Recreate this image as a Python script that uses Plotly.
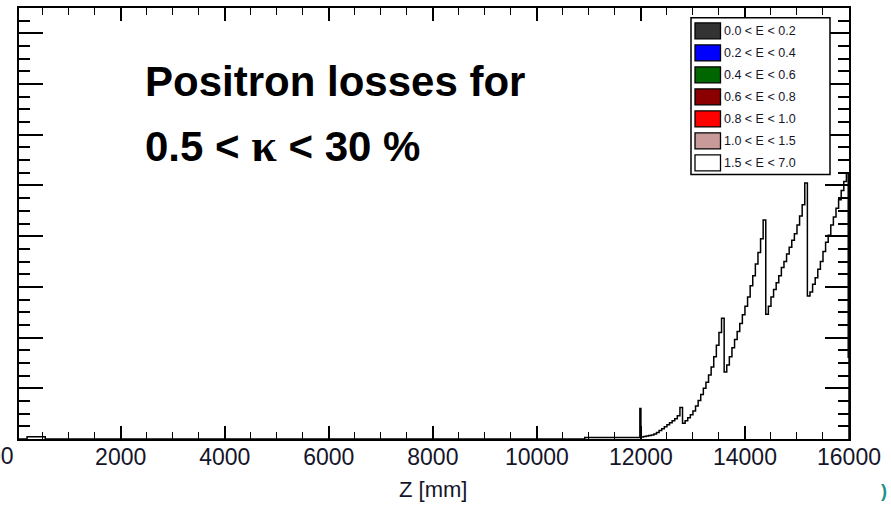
import plotly.graph_objects as go

# ---------------- data ----------------
# left edges of histogram bins (Z in mm) and the bin contents
z_left = [45, 200, 550, 10920, 11980] + list(range(12000, 16000, 50)) + [15985]
z_end = 16000
counts = [0, 0.045, 0, 0.03, 0.60,
          0.04, 0.05, 0.06, 0.07, 0.08, 0.10, 0.13, 0.17, 0.20, 0.24,
          0.28, 0.32, 0.36, 0.40, 0.46, 0.62, 0.31, 0.36, 0.42, 0.48,
          0.55, 0.65, 0.76, 0.88, 1.00, 1.12, 1.26, 1.42, 1.62, 1.85,
          2.10, 2.38, 1.32, 1.46, 1.62, 1.80, 1.96, 2.12, 2.28, 2.45,
          2.62, 2.80, 3.02, 3.22, 3.45, 3.68, 3.95, 4.32, 2.46, 2.62,
          2.80, 2.95, 3.08, 3.22, 3.38, 3.50, 3.65, 3.78, 3.92, 4.05,
          4.22, 4.40, 4.62, 5.05, 2.82, 2.90, 3.05, 3.18, 3.35, 3.50,
          3.70, 3.88, 4.02, 4.22, 4.38, 4.55, 4.72, 4.90, 5.08, 5.25,
          1.61]

legend_labels = ["0.0 < E < 0.2", "0.2 < E < 0.4", "0.4 < E < 0.6", "0.6 < E < 0.8",
                 "0.8 < E < 1.0", "1.0 < E < 1.5", "1.5 < E < 7.0"]
legend_colors = ["#333333", "#0000ff", "#006600", "#8b0000", "#ff0000", "#c99a9a", "#ffffff"]

x_ticks = [2000, 4000, 6000, 8000, 10000, 12000, 14000, 16000]
x_ticktext = ["2000", "4000", "6000", "8000", "10000", "12000", "14000", "16000"]

# ---------------- figure ----------------
W, H = 891, 506
ML, MR, MT, MB = 19, 42, 6, 67
PW, PH = W - ML - MR, H - MT - MB

def px_x(p):
    return (p - ML) / PW

def px_y(p):
    return (H - MB - p) / PH

SANS = "Liberation Sans, Arial, sans-serif"
LABCOL = "#15152a"

fig = go.Figure()
fig.add_trace(go.Scatter(
    x=z_left + [z_end], y=counts + [0],
    mode="lines", line=dict(color="black", width=1.5, shape="hv"),
    name=legend_labels[-1], showlegend=False, hoverinfo="skip"))

shapes = []
annotations = []

# manual ROOT-style legend box
LX0, LX1, LY0, LY1 = 691, 830, 15.7, 173.3
shapes.append(dict(type="rect", xref="paper", yref="paper",
                   x0=px_x(LX0), x1=px_x(LX1), y0=px_y(LY1), y1=px_y(LY0),
                   line=dict(color="black", width=1.5), fillcolor="white", layer="above"))
for i, (lab, col) in enumerate(zip(legend_labels, legend_colors)):
    cy = 29 + i * 22.1
    shapes.append(dict(type="rect", xref="paper", yref="paper",
                       x0=px_x(695), x1=px_x(720.5), y0=px_y(cy + 8), y1=px_y(cy - 8),
                       line=dict(color="black", width=1.3), fillcolor=col, layer="above"))
    annotations.append(dict(xref="paper", yref="paper", x=px_x(722), y=px_y(cy),
                            xanchor="left", yanchor="middle", text=lab, showarrow=False,
                            font=dict(family=SANS, size=12.5, color=LABCOL)))

# slide text
annotations.append(dict(xref="paper", yref="paper", x=px_x(143), y=px_y(80),
                        xanchor="left", yanchor="middle", showarrow=False,
                        text="<b>Positron losses for</b>",
                        font=dict(family=SANS, size=42, color="black")))
annotations.append(dict(xref="paper", yref="paper", x=px_x(143), y=px_y(144),
                        xanchor="left", yanchor="middle", showarrow=False,
                        text="<b>0.5 &lt; <span style=\"font-family:'Liberation Serif';font-size:46px\">κ</span> &lt; 30 %</b>",
                        font=dict(family=SANS, size=42, color="black")))
# axis title
annotations.append(dict(xref="paper", yref="paper", x=px_x(433), y=px_y(490),
                        xanchor="center", yanchor="middle", showarrow=False, text="Z [mm]",
                        font=dict(family=SANS, size=22, color=LABCOL)))
# fragments cropped from the neighbouring slide content
annotations.append(dict(xref="paper", yref="paper", x=px_x(16), y=px_y(456),
                        xanchor="right", yanchor="middle", showarrow=False, text="00",
                        font=dict(family=SANS, size=23, color=LABCOL)))
annotations.append(dict(xref="paper", yref="paper", x=px_x(884), y=px_y(491),
                        xanchor="center", yanchor="middle", showarrow=False, text="<b>)</b>",
                        font=dict(family=SANS, size=18, color="#1f8f8f")))

fig.update_layout(
    width=W, height=H,
    margin=dict(l=ML, r=MR, t=MT, b=MB, pad=0),
    paper_bgcolor="white", plot_bgcolor="white",
    showlegend=False,
    shapes=shapes, annotations=annotations,
    xaxis=dict(range=[45, 16000], tickmode="array", tickvals=x_ticks, ticktext=x_ticktext,
               showline=True, linecolor="black", linewidth=2, mirror="ticks",
               ticks="inside", ticklen=13, tickwidth=1.5, tickcolor="black",
               minor=dict(dtick=500, tick0=0, ticks="inside", ticklen=7, tickwidth=1.3, tickcolor="black"),
               showgrid=False, zeroline=False, ticklabelstandoff=-4,
               tickfont=dict(family=SANS, size=23, color=LABCOL)),
    yaxis=dict(range=[0, 8.5], dtick=1, tick0=0, showticklabels=False,
               showline=True, linecolor="black", linewidth=2, mirror="ticks",
               ticks="inside", ticklen=24, tickwidth=1.8, tickcolor="black",
               minor=dict(dtick=0.25, tick0=0, ticks="inside", ticklen=11, tickwidth=1.8, tickcolor="black"),
               showgrid=False, zeroline=False),
)

fig.write_html("out.html", config={"displayModeBar": False},
               post_script="document.body.style.margin='0px';document.body.style.overflow='hidden';")
